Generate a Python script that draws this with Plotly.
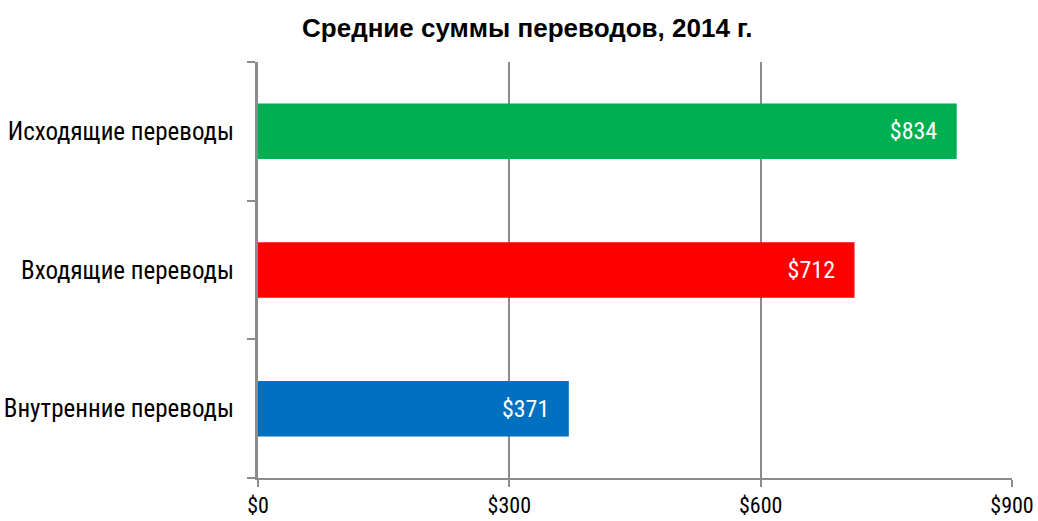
import plotly.graph_objects as go

categories = ["Внутренние переводы", "Входящие переводы", "Исходящие переводы"]
values = [371, 712, 834]
colors = ["#0070C0", "#FF0000", "#00B050"]
labels = ["$371", "$712", "$834"]
tick_vals = [0, 300, 600, 900]
tick_text = ["$0", "$300", "$600", "$900"]
title = "<b>Средние суммы переводов, 2014 г.</b>"

FONT = "Liberation Sans Narrow, Arial Narrow, Roboto Condensed, Liberation Sans, sans-serif"
TITLE_FONT = "Liberation Sans, Arial, sans-serif"

fig = go.Figure(go.Bar(
    y=categories, x=values, orientation="h",
    marker=dict(color=colors, line=dict(width=0)),
    text=labels, texttemplate="%{text}\u00a0\u00a0\u00a0",
    textposition="inside", insidetextanchor="end",
    textfont=dict(color="white", size=24, family=FONT),
    width=0.4,
))

fig.update_layout(
    width=1038, height=521,
    margin=dict(l=258, r=26, t=62, b=43),
    paper_bgcolor="white", plot_bgcolor="white",
    title=dict(text=title, x=0.508, xanchor="center", y=0.947, yanchor="middle",
               font=dict(size=26, family=TITLE_FONT, color="black")),
    font=dict(family=FONT, color="black", size=24),
    showlegend=False,
    xaxis=dict(range=[0, 900], tickvals=tick_vals, ticktext=tick_text,
               showgrid=True, gridcolor="#8c8c8c", gridwidth=1.5,
               showline=True, linecolor="#8c8c8c", linewidth=2,
               ticks="outside", ticklen=7, tickcolor="#8c8c8c", tickwidth=2,
               tickfont=dict(size=22), zeroline=False, fixedrange=True,
               automargin=False),
    yaxis=dict(showline=True, linecolor="#8c8c8c", linewidth=3,
               ticks="outside", tickson="boundaries", ticklen=8,
               tickcolor="#8c8c8c", tickwidth=2,
               tickfont=dict(size=25), ticklabelstandoff=16, fixedrange=True,
               automargin=False),
)

fig.write_html("out.html")
